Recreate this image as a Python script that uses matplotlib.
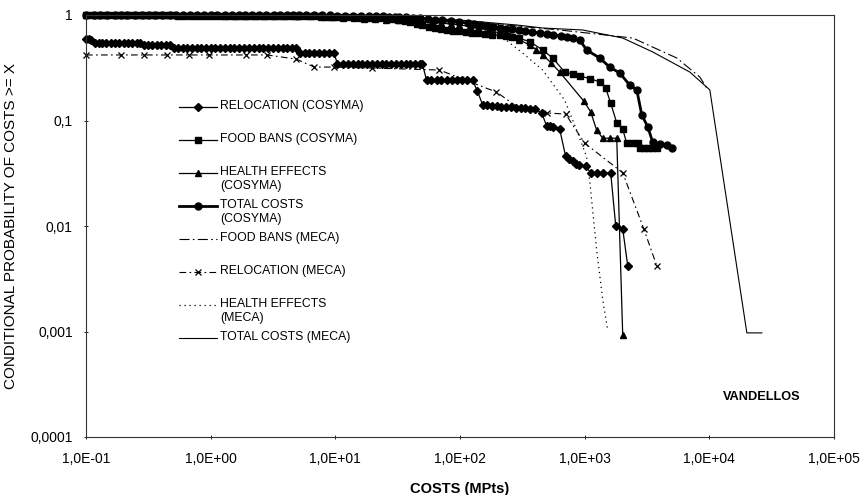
import matplotlib.pyplot as plt
from matplotlib.lines import Line2D
from matplotlib.ticker import FixedLocator, FuncFormatter, NullLocator

plt.rcParams['font.family'] = ['Liberation Sans', 'DejaVu Sans']

# --- data (costs in MPts, conditional probability) ---
reloc_cos_x = [0.1, 0.105, 0.11, 0.118, 0.126, 0.135, 0.146, 0.158, 0.17, 0.185, 0.2, 0.218, 0.236, 0.255, 0.272,
               0.29, 0.315, 0.34, 0.37, 0.4, 0.435, 0.47,
               0.51, 0.55, 0.6, 0.65, 0.71, 0.77, 0.84, 0.92, 1.0, 1.09, 1.19, 1.3, 1.42, 1.55, 1.7, 1.86, 2.03,
               2.22, 2.43, 2.65, 2.9, 3.17, 3.46, 3.78, 4.13, 4.5, 4.86,
               5.2, 5.7, 6.2, 6.8, 7.4, 8.1, 8.9, 9.8,
               10.4, 11.5, 12.6, 13.8, 15.1, 16.5, 18, 19.7, 21.5, 23.5, 25.7, 28, 30.6, 33.5, 36.6, 40, 43.7, 47.8, 50,
               54, 59, 65, 71, 78, 86, 94, 103, 113, 126,
               138,
               152, 165, 180, 197, 215, 235, 257, 280, 306, 334, 365, 400, 452,
               495, 530, 560, 630,
               703, 750, 800, 850, 895, 1019, 1117, 1250, 1400, 1617,
               1775, 2019, 2215]
reloc_cos_y = [0.59, 0.59, 0.58, 0.545, 0.545, 0.545, 0.545, 0.545, 0.545, 0.545, 0.545, 0.545, 0.545, 0.545, 0.545,
               0.52, 0.52, 0.52, 0.52, 0.52, 0.52, 0.52,
               0.49, 0.49, 0.49, 0.49, 0.49, 0.49, 0.49, 0.49, 0.49, 0.49, 0.49, 0.49, 0.49, 0.49, 0.49, 0.49, 0.49,
               0.49, 0.49, 0.49, 0.49, 0.49, 0.49, 0.49, 0.49, 0.49, 0.49,
               0.435, 0.435, 0.435, 0.435, 0.435, 0.435, 0.435, 0.435,
               0.34, 0.34, 0.34, 0.34, 0.34, 0.34, 0.34, 0.34, 0.34, 0.34, 0.34, 0.34, 0.34, 0.34, 0.34, 0.34, 0.34, 0.34, 0.34,
               0.24, 0.24, 0.24, 0.24, 0.24, 0.24, 0.24, 0.24, 0.24, 0.24,
               0.19,
               0.14, 0.139, 0.138, 0.136, 0.135, 0.134, 0.133, 0.132, 0.131, 0.13, 0.129, 0.128, 0.118,
               0.089, 0.088, 0.087, 0.083,
               0.046, 0.043, 0.041, 0.039, 0.038, 0.037, 0.032, 0.032, 0.032, 0.032,
               0.010, 0.0094, 0.0042]

food_cos_x = [0.1, 0.112, 0.125, 0.14, 0.157, 0.176, 0.197, 0.22, 0.247, 0.277, 0.31, 0.348, 0.39, 0.437,
              0.49, 0.55, 0.615, 0.69, 0.773, 0.866, 0.97, 1.09, 1.22, 1.37, 1.53, 1.72, 1.93, 2.16, 2.42,
              2.71, 3.04, 3.4, 3.82, 4.28, 4.8, 5.14,
              5.8, 6.5, 7.3, 8.2, 9.2, 10.3, 11.5, 12.9, 14.5, 16.2, 18.2, 20.4, 22.6, 25.5, 28.5, 32, 36,
              40, 45, 50, 56, 63, 70, 79, 88, 99, 112, 125, 140, 160, 182, 208, 235, 260, 300, 362,
              460, 554, 691, 800, 912, 1100, 1319, 1475, 1617, 1808, 2019,
              2174, 2420, 2667, 2767, 3000, 3250, 3500, 3786]
food_cos_y = [0.99, 0.99, 0.99, 0.99, 0.99, 0.99, 0.99, 0.99, 0.99, 0.99, 0.99, 0.99, 0.99, 0.99,
              0.99, 0.988, 0.988, 0.987, 0.987, 0.986, 0.986, 0.985, 0.985, 0.984, 0.984, 0.983, 0.983, 0.982, 0.982,
              0.981, 0.98, 0.98, 0.979, 0.978, 0.978, 0.978,
              0.975, 0.972, 0.968, 0.965, 0.962, 0.958, 0.955, 0.952, 0.948, 0.945, 0.941, 0.938, 0.935, 0.93, 0.92, 0.9, 0.88,
              0.86, 0.83, 0.8, 0.775, 0.75, 0.735, 0.72, 0.71, 0.7, 0.69, 0.68, 0.67, 0.66, 0.65, 0.64, 0.63, 0.62, 0.6, 0.56,
              0.466, 0.391, 0.288, 0.275, 0.264, 0.25, 0.232, 0.203, 0.146, 0.095, 0.083,
              0.061, 0.061, 0.061, 0.055, 0.055, 0.055, 0.055, 0.055]

health_cos_x = [0.1, 0.12, 0.145, 0.175, 0.21, 0.25, 0.3, 0.36, 0.43, 0.52, 0.62, 0.75, 0.9, 1.08, 1.3, 1.56,
                1.87, 2.25, 2.7, 3.25, 3.9, 4.7, 5.14, 6.3, 7.7, 9.4, 11.5, 14, 17, 20.8, 25.5, 32.7,
                40, 50, 60, 70, 84, 99, 120, 140, 170, 208, 250, 300, 362, 410, 460, 540, 630,
                982, 1117, 1248, 1396, 1588, 1808, 2019]
health_cos_y = [1.0, 1.0, 1.0, 1.0, 1.0, 1.0, 1.0, 0.998, 0.996, 0.995, 0.994, 0.993, 0.992, 0.99, 0.989, 0.988,
                0.987, 0.985, 0.984, 0.982, 0.98, 0.979, 0.978, 0.97, 0.962, 0.955, 0.945, 0.935, 0.925, 0.915, 0.905, 0.897,
                0.885, 0.87, 0.855, 0.84, 0.82, 0.804, 0.78, 0.75, 0.72, 0.675, 0.63, 0.58, 0.52, 0.47, 0.42, 0.35, 0.288,
                0.153, 0.121, 0.081, 0.068, 0.068, 0.068, 0.00093]

total_cos_x = [0.1, 0.115, 0.13, 0.148, 0.17, 0.19, 0.215, 0.245, 0.28, 0.32, 0.36, 0.41, 0.47, 0.53, 0.6,
               0.68, 0.78, 0.88, 1.0, 1.13, 1.3, 1.48, 1.68, 1.9, 2.15, 2.45, 2.8, 3.2, 3.6, 4.1, 4.6, 5.14,
               5.8, 6.8, 7.8, 9, 10.3, 12, 13.8, 16, 18.5, 21, 24, 27, 30, 32.7, 37, 42, 48, 55, 63, 72, 84,
               99, 115, 130, 148, 165, 185, 208, 235, 260, 295, 330, 380, 435, 500, 560, 640, 720, 810, 912,
               1038, 1319, 1588, 1910, 2297, 2618, 2871, 3208, 3518, 4001, 4556, 5000]
total_cos_y = [1.0, 1.0, 1.0, 1.0, 1.0, 1.0, 1.0, 1.0, 1.0, 1.0, 1.0, 1.0, 1.0, 1.0, 1.0,
               1.0, 1.0, 1.0, 1.0, 1.0, 1.0, 1.0, 1.0, 1.0, 1.0, 1.0, 1.0, 1.0, 1.0, 1.0, 1.0, 1.0,
               0.998, 0.995, 0.993, 0.99, 0.988, 0.985, 0.982, 0.98, 0.976, 0.972, 0.968, 0.965, 0.96, 0.957, 0.95, 0.94, 0.93, 0.92, 0.905, 0.89, 0.875,
               0.858, 0.84, 0.82, 0.805, 0.79, 0.77, 0.753, 0.74, 0.73, 0.718, 0.705, 0.69, 0.675, 0.662, 0.65, 0.635, 0.62, 0.6, 0.58,
               0.466, 0.391, 0.321, 0.282, 0.217, 0.195, 0.113, 0.087, 0.062, 0.060, 0.059, 0.055]

food_meca_x = [0.1, 5.14, 32.7, 99, 284, 630, 2430, 5485, 8394, 9731]
food_meca_y = [1.0, 0.989, 0.947, 0.877, 0.787, 0.721, 0.605, 0.391, 0.258, 0.195]

reloc_meca_x = [0.1, 0.191, 0.292, 0.448, 0.672, 0.973, 1.93, 2.84, 4.86, 6.78, 9.81, 19.8, 68.4,
                196, 290, 495, 703, 1000, 2019, 2979, 3786]
reloc_meca_y = [0.418, 0.418, 0.418, 0.418, 0.418, 0.418, 0.418, 0.418, 0.382, 0.321, 0.321, 0.314, 0.301,
                0.186, 0.134, 0.118, 0.115, 0.061, 0.032, 0.0094, 0.0042]

health_meca_x = [0.1, 5.14, 32.7, 99, 208, 318, 460, 691, 863, 1038, 1097, 1248, 1396, 1530]
health_meca_y = [1.0, 1.0, 0.937, 0.84, 0.646, 0.436, 0.301, 0.156, 0.081, 0.045, 0.027, 0.0059, 0.002, 0.00103]

total_meca_x = [0.1, 5.14, 32.7, 99, 284, 460, 964, 2019, 3518, 6970, 10090, 20000, 26400]
total_meca_y = [1.0, 0.989, 0.957, 0.897, 0.804, 0.753, 0.721, 0.605, 0.446, 0.288, 0.195, 0.00097, 0.00097]

x_ticks = [1e-1, 1e0, 1e1, 1e2, 1e3, 1e4, 1e5]
y_ticks = [1e-4, 1e-3, 1e-2, 1e-1, 1]
y_tick_labels = ['0,0001', '0,001', '0,01', '0,1', '1']

series = [
    ('RELOCATION (COSYMA)', reloc_cos_x, reloc_cos_y,
     dict(color='black', lw=0.9, ls='-', marker='D', ms=3.6)),
    ('FOOD BANS (COSYMA)', food_cos_x, food_cos_y,
     dict(color='black', lw=0.9, ls='-', marker='s', ms=4.6)),
    ('HEALTH EFFECTS\n(COSYMA)', health_cos_x, health_cos_y,
     dict(color='black', lw=0.9, ls='-', marker='^', ms=4.6)),
    ('TOTAL COSTS\n(COSYMA)', total_cos_x, total_cos_y,
     dict(color='black', lw=2.0, ls='-', marker='o', ms=5.0)),
    ('FOOD BANS (MECA)', food_meca_x, food_meca_y,
     dict(color='black', lw=0.8, ls=(0, (9, 3, 1.5, 3)), marker=None)),
    ('RELOCATION (MECA)', reloc_meca_x, reloc_meca_y,
     dict(color='black', lw=0.8, ls=(0, (6, 3, 1.5, 3)), marker='x', ms=4.5, mew=0.9)),
    ('HEALTH EFFECTS\n(MECA)', health_meca_x, health_meca_y,
     dict(color='black', lw=0.9, ls=(0, (1, 3)), marker=None)),
    ('TOTAL COSTS (MECA)', total_meca_x, total_meca_y,
     dict(color='black', lw=0.8, ls='-', marker=None)),
]

fig = plt.figure(figsize=(8.65, 4.95), dpi=100)
ax = fig.add_axes([86 / 865, 1 - 437 / 495, (834 - 86) / 865, (437 - 15) / 495])

for label, xs, ys, style in series:
    ax.plot(xs, ys, clip_on=False, **style)

ax.set_xscale('log')
ax.set_yscale('log')
ax.set_xlim(1e-1, 1e5)
ax.set_ylim(1e-4, 1)

ax.xaxis.set_major_locator(FixedLocator(x_ticks))
ax.xaxis.set_minor_locator(NullLocator())
ax.xaxis.set_major_formatter(FuncFormatter(lambda v, p: ('%.1E' % v).replace('.', ',')))
ax.yaxis.set_major_locator(FixedLocator(y_ticks))
ax.yaxis.set_minor_locator(NullLocator())
ax.set_yticklabels(y_tick_labels)
ax.tick_params(axis='both', labelsize=10, length=3, width=0.6, direction='inout', pad=9)
ax.tick_params(axis='y', pad=8)
for s in ax.spines.values():
    s.set_linewidth(0.8)
    s.set_color('#333333')

ax.set_xlabel('COSTS (MPts)', fontsize=10.5, fontweight='bold', labelpad=12)
ax.set_ylabel('CONDITIONAL PROBABILITY OF COSTS >= X', fontsize=11, labelpad=9)

ax.text(0.852, 0.095, 'VANDELLOS', transform=ax.transAxes, fontsize=9.2,
        fontweight='bold', ha='left', va='center')

# legend drawn Excel-style: first text line aligned with the sample line
leg_x0, leg_x1, leg_tx = (179 - 86) / 748, (217 - 86) / 748, (220 - 86) / 748
leg_top, leg_step = (437 - 107) / 422, 33.0 / 422
for i, (label, xs, ys, style) in enumerate(series):
    yy = leg_top - i * leg_step
    st = dict(style)
    mk = st.pop('marker', None)
    ms = st.pop('ms', None)
    mew = st.pop('mew', None)
    ax.add_line(Line2D([leg_x0, leg_x1], [yy, yy], transform=ax.transAxes, **st))
    if mk:
        ax.add_line(Line2D([(leg_x0 + leg_x1) / 2], [yy], transform=ax.transAxes,
                           marker=mk, ms=ms, color='black', lw=0,
                           mew=mew if mew else 1.0))
    ax.text(leg_tx, yy + 0.017, label, transform=ax.transAxes, fontsize=8.8,
            ha='left', va='top', linespacing=1.2)

fig.savefig('out.png', dpi=100)
